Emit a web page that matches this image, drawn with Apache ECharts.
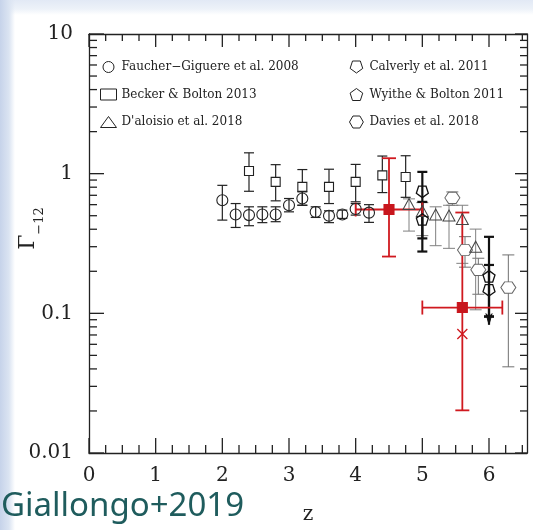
<!DOCTYPE html>
<html>
<head>
<meta charset="utf-8">
<script src="https://cdn.jsdelivr.net/npm/echarts@6/dist/echarts.min.js"></script>
<style>
html,body{margin:0;padding:0;}
body{width:533px;height:530px;overflow:hidden;
background:
 linear-gradient(to right, #c6d3ea 0px, #dbe4f2 9px, rgba(255,255,255,0) 15px),
 linear-gradient(to bottom, #e2e9f5 0px, #edf2f9 9px, #ffffff 15px);}
#chart{width:533px;height:530px;}
</style>
</head>
<body>
<div id="chart"></div>
<script>
// ---------------- data ----------------
// Faucher-Giguere et al. 2008 (circles)
const fgZ  = [2.0, 2.2, 2.4, 2.6, 2.8, 3.0, 3.2, 3.4, 3.6, 3.8, 4.0, 4.2];
const fgV  = [0.645, 0.51, 0.505, 0.51, 0.51, 0.594, 0.664, 0.532, 0.50, 0.51, 0.558, 0.526];
const fgLo = [0.465, 0.412, 0.424, 0.446, 0.453, 0.533, 0.594, 0.486, 0.446, 0.478, 0.505, 0.448];
const fgHi = [0.825, 0.611, 0.579, 0.579, 0.579, 0.664, 0.741, 0.579, 0.542, 0.548, 0.611, 0.600];
// Becker & Bolton 2013 (squares)
const bbZ  = [2.4, 2.8, 3.2, 3.6, 4.0, 4.4, 4.75];
const bbV  = [1.045, 0.873, 0.804, 0.804, 0.873, 0.972, 0.947];
const bbLo = [0.748, 0.639, 0.594, 0.611, 0.629, 0.732, 0.677];
const bbHi = [1.41, 1.16, 1.07, 1.076, 1.165, 1.337, 1.344];
// D'Aloisio et al. 2018 (triangles)
const daZ  = [4.8, 5.0, 5.2, 5.4, 5.6, 5.8];
const daV  = [0.606, 0.54, 0.51, 0.502, 0.474, 0.30];
const daLo = [0.388, 0.36, 0.305, 0.292, 0.228, 0.106];
const daHi = [0.66, 0.62, 0.579, 0.594, 0.594, 0.401];
// Calverly et al. 2011 (inverted pentagons); last one is an upper limit
const caZ  = [5.0, 6.0];
const caV  = [0.74, 0.146];
const caLo = [0.344, 0.083];
const caHi = [1.03, 0.222];
const caLim = [0, 1];
// Wyithe & Bolton 2011 (pentagons)
const wbZ  = [5.0, 6.0];
const wbV  = [0.47, 0.184];
const wbLo = [0.277, 0.095];
const wbHi = [0.628, 0.353];
// Davies et al. 2018 (hexagons)
const dvZ  = [5.45, 5.64, 5.84, 6.29];
const dvV  = [0.671, 0.284, 0.205, 0.153];
const dvLo = [0.594, 0.214, 0.137, 0.0414];
const dvHi = [0.74, 0.354, 0.248, 0.262];
// Giallongo et al. 2019 (red filled squares, with redshift bins)
const gaZ   = [4.5, 5.6];
const gaV   = [0.554, 0.110];
const gaLo  = [0.255, 0.0202];
const gaHi  = [1.29, 0.527];
const gaZlo = [4.0, 5.0];
const gaZhi = [5.0, 6.2];
// red cross
const gxZ = [5.6];
const gxV = [0.0712];

// axes ticks / labels
const xTicks  = [0, 1, 2, 3, 4, 5, 6];
const xMinor  = [0.25,0.5,0.75,1.25,1.5,1.75,2.25,2.5,2.75,3.25,3.5,3.75,4.25,4.5,4.75,5.25,5.5,5.75,6.25,6.5];
const yTicks  = [0.01, 0.1, 1, 10];
const yLabels = ['0.01', '0.1', '1', '10'];
const yMinor  = [0.02,0.03,0.04,0.05,0.06,0.07,0.08,0.09,0.2,0.3,0.4,0.5,0.6,0.7,0.8,0.9,2,3,4,5,6,7,8,9];

const X_MIN = 0, X_MAX = 6.57, Y_MIN = 0.01, Y_MAX = 10;

const names = ['Faucher\u2212Giguere et al. 2008','Becker & Bolton 2013',"D'aloisio et al. 2018",
               'Calverly et al. 2011','Wyithe & Bolton 2011','Davies et al. 2018'];

// ---------------- symbols ----------------
const PENT_UP   = 'path://M50,0L97.55,34.55L79.39,90.45L20.61,90.45L2.45,34.55Z';
const PENT_DOWN = 'path://M50,90.45L97.55,55.9L79.39,0L20.61,0L2.45,55.9Z';
const HEX       = 'path://M0,43.3L25,0L75,0L100,43.3L75,86.6L25,86.6Z';

function zip(...arrs){ return arrs[0].map((_, i) => arrs.map(a => a[i])); }

function errSeries(data, color, width, cap, opt){
  opt = opt || {};
  return {
    type: 'custom', silent: true, xAxisIndex: 0, yAxisIndex: 0,
    data: data,
    encode: {x: 0, y: 1},
    renderItem: function(params, api){
      const z = api.value(0), v = api.value(1), lo = api.value(2), hi = api.value(3);
      const c = api.coord([z, v]);
      const t = api.coord([z, hi]);
      const b = api.coord([z, lo]);
      const st = {stroke: color, lineWidth: width, fill: null};
      const ch = [];
      ch.push({type:'line', shape:{x1:c[0], y1:t[1], x2:c[0], y2:b[1]}, style:st});
      ch.push({type:'line', shape:{x1:c[0]-cap, y1:t[1], x2:c[0]+cap, y2:t[1]}, style:st});
      const lim = opt.limIdx != null ? api.value(opt.limIdx) : 0;
      if (lim) {
        ch.push({type:'polygon', shape:{points:[[b[0],b[1]],[b[0]-3,b[1]-11],[b[0],b[1]-8],[b[0]+3,b[1]-11]]},
                 style:{fill: color, stroke: color, lineWidth: 1}});
        ch.push({type:'line', shape:{x1:c[0]-cap, y1:b[1]-8, x2:c[0]+cap, y2:b[1]-8}, style:st});
      } else {
        ch.push({type:'line', shape:{x1:c[0]-cap, y1:b[1], x2:c[0]+cap, y2:b[1]}, style:st});
      }
      if (opt.xerr) {
        const l = api.coord([api.value(4), v]);
        const r = api.coord([api.value(5), v]);
        ch.push({type:'line', shape:{x1:l[0], y1:c[1], x2:r[0], y2:c[1]}, style:st});
        ch.push({type:'line', shape:{x1:l[0], y1:c[1]-cap, x2:l[0], y2:c[1]+cap}, style:st});
        ch.push({type:'line', shape:{x1:r[0], y1:c[1]-cap, x2:r[0], y2:c[1]+cap}, style:st});
      }
      return {type:'group', children: ch};
    }
  };
}

// frame ticks: item = [xValue, yValue, kind, lenA, lenB]; kind 0 = x tick, 1 = y tick
const tickData = []
  .concat(xTicks.map(v => [v, 1, 0, 15, 13]))
  .concat(xMinor.map(v => [v, 1, 0, 8, 7]))
  .concat(yTicks.map(v => [1, v, 1, 15, 12]))
  .concat(yMinor.map(v => [1, v, 1, 8, 7]));

function tickSeries(){
  return {
    type: 'custom', silent: true, xAxisIndex: 0, yAxisIndex: 0,
    data: tickData,
    encode: {x: 0, y: 1},
    renderItem: function(params, api){
      const xv = api.value(0), yv = api.value(1), kind = api.value(2), a = api.value(3), b = api.value(4);
      const bl = api.coord([X_MIN, Y_MIN]);
      const tr = api.coord([X_MAX, Y_MAX]);
      const p = api.coord([xv, yv]);
      const st = {stroke: '#222', lineWidth: 1.3, fill: null};
      const ch = [];
      if (kind === 0) {
        ch.push({type:'line', shape:{x1:p[0], y1:bl[1], x2:p[0], y2:bl[1]-a}, style:st});
        ch.push({type:'line', shape:{x1:p[0], y1:tr[1], x2:p[0], y2:tr[1]+b}, style:st});
      } else {
        ch.push({type:'line', shape:{x1:bl[0], y1:p[1], x2:bl[0]+a, y2:p[1]}, style:st});
        ch.push({type:'line', shape:{x1:tr[0], y1:p[1], x2:tr[0]-b, y2:p[1]}, style:st});
      }
      return {type:'group', children: ch};
    }
  };
}

function markSeries(name, z, v, symbol, size, stroke, fill, bw){
  return {
    type: 'scatter', name: name, xAxisIndex: 0, yAxisIndex: 0,
    data: zip(z, v), symbol: symbol, symbolSize: size, symbolKeepAspect: true,
    itemStyle: {color: fill, borderColor: stroke, borderWidth: bw || 1.1, opacity: 1},
    emphasis: {disabled: true}, silent: true
  };
}

const SERIF = 'DejaVu Serif';
const axisLineStyle = {color: '#222', width: 1.3};

function xAx(pos, labels){
  return {
    type: 'value', position: pos, min: X_MIN, max: X_MAX, interval: 1,
    axisLine: {show: true, onZero: false, lineStyle: axisLineStyle},
    axisTick: {show: false},
    axisLabel: labels ? {show: true, showMaxLabel: false, margin: 13, fontFamily: SERIF, fontSize: 20, color: '#222'} : {show: false},
    splitLine: {show: false},
    name: (labels ? 'z' : ''), nameLocation: 'middle', nameGap: 52,
    nameTextStyle: {fontFamily: SERIF, fontSize: 20, color: '#222'}
  };
}
function yAx(pos, labels){
  return {
    type: 'log', logBase: 10, position: pos, min: Y_MIN, max: Y_MAX,
    axisLine: {show: true, onZero: false, lineStyle: axisLineStyle},
    axisTick: {show: false},
    axisLabel: labels ? {show: true, margin: 16, fontFamily: SERIF, fontSize: 20, color: '#222',
      formatter: function(val){
        let best = 0;
        for (let i = 0; i < yTicks.length; i++) {
          if (Math.abs(Math.log10(val) - Math.log10(yTicks[i])) < Math.abs(Math.log10(val) - Math.log10(yTicks[best]))) best = i;
        }
        return yLabels[best];
      }
    } : {show: false},
    splitLine: {show: false}, minorSplitLine: {show: false}
  };
}

const legendText = {fontFamily: SERIF, fontSize: 12, color: '#222', lineHeight: 14};
const legendIcons = ['circle', 'rect', 'triangle', PENT_DOWN, PENT_UP, HEX];
function legendData(idx){
  return idx.map(i => ({name: names[i], icon: legendIcons[i],
    itemStyle: {color: 'rgba(255,255,255,0)', borderColor: '#222', borderWidth: 1}}));
}

const option = {
  animation: false,
  backgroundColor: 'rgba(0,0,0,0)',
  grid: {left: 89, top: 34, width: 438, height: 421, containLabel: false, show: true, backgroundColor: '#ffffff', borderWidth: 0},
  xAxis: [ xAx('bottom', true), xAx('top', false) ],
  yAxis: [ yAx('left', true), yAx('right', false) ],
  legend: [
    {left: 100, top: 60, orient: 'vertical', itemGap: 13.5, itemWidth: 16, itemHeight: 11, padding: 0,
     selectedMode: false, textStyle: legendText, data: legendData([0,1,2])},
    {left: 349, top: 60, orient: 'vertical', itemGap: 13.5, itemWidth: 16, itemHeight: 12, padding: 0,
     selectedMode: false, textStyle: legendText, data: legendData([3,4,5])}
  ],
  graphic: [
    {type: 'text', x: 28, y: 242, rotation: Math.PI/2, silent: true,
     style: {text: '\u0393', font: '22px "DejaVu Serif"', fill: '#222', align: 'center', verticalAlign: 'middle'}},
    {type: 'text', x: 40, y: 221, rotation: Math.PI/2, silent: true,
     style: {text: '\u221212', font: '13px "DejaVu Serif"', fill: '#222', align: 'center', verticalAlign: 'middle'}},
    {type: 'text', x: 1, y: 507, silent: true,
     style: {text: 'Giallongo+2019', font: '33px "Noto Sans"', fill: '#1f5c5d', align: 'left', verticalAlign: 'middle'}}
  ],
  series: [
    tickSeries(),
    errSeries(zip(dvZ, dvV, dvLo, dvHi), '#707070', 1, 6),
    markSeries(names[5], dvZ, dvV, HEX, [15, 13], '#666', '#ffffff', 1),
    errSeries(zip(daZ, daV, daLo, daHi), '#808080', 1, 6),
    markSeries(names[2], daZ, daV, 'triangle', [12, 11], '#444', 'rgba(255,255,255,0)', 1),
    errSeries(zip(fgZ, fgV, fgLo, fgHi), '#222', 1.2, 5),
    markSeries(names[0], fgZ, fgV, 'circle', 11, '#222', 'rgba(255,255,255,0)', 1.1),
    errSeries(zip(bbZ, bbV, bbLo, bbHi), '#222', 1.2, 5),
    markSeries(names[1], bbZ, bbV, 'rect', 9, '#222', '#ffffff', 1.1),
    errSeries(zip(caZ, caV, caLo, caHi, caLim), '#111', 2.2, 5, {limIdx: 4}),
    markSeries(names[3], caZ, caV, PENT_DOWN, 12, '#111', 'rgba(255,255,255,0)', 1.3),
    errSeries(zip(wbZ, wbV, wbLo, wbHi), '#111', 2.2, 5),
    markSeries(names[4], wbZ, wbV, PENT_UP, 12, '#111', 'rgba(255,255,255,0)', 1.3),
    errSeries(zip(gaZ, gaV, gaLo, gaHi, gaZlo, gaZhi), '#d0191f', 1.8, 7, {xerr: true}),
    markSeries('Giallongo et al. 2019', gaZ, gaV, 'rect', 10, '#c8161d', '#c8161d', 0),
    markSeries('cross', gxZ, gxV, 'path://M0,0L10,10M10,0L0,10', 10, '#d0191f', 'rgba(0,0,0,0)', 1.3)
  ]
};

const chart = echarts.init(document.getElementById('chart'), null, {renderer: 'canvas'});
chart.setOption(option);
</script>
</body>
</html>
